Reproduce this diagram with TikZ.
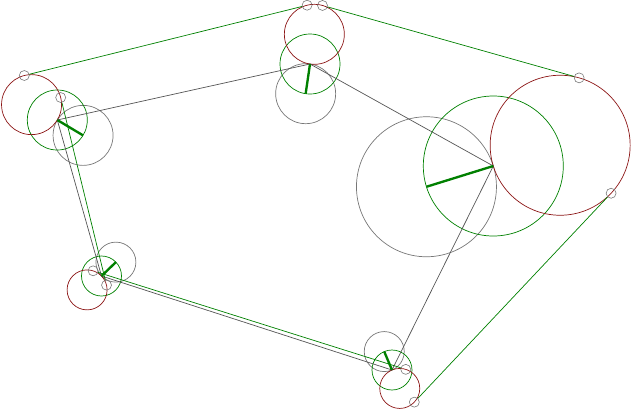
\documentclass[tikz,border=0pt]{standalone}
\usetikzlibrary{positioning, calc}
\definecolor{hullgreen}{RGB}{0,128,0}
\definecolor{outred}{RGB}{140,22,22}
\definecolor{edgegray}{RGB}{85,85,85}
\tikzset{
  ring/.style={draw=hullgreen, line width=0.6pt},
  inring/.style={draw=edgegray!80, line width=0.6pt},
  outring/.style={draw=outred, line width=0.6pt},
  spoke/.style={draw=hullgreen, line width=2pt},
  edge/.style={draw=edgegray, line width=0.6pt, line join=round},
  hull/.style={draw=hullgreen, line width=0.6pt},
  tpoint/.style={circle, draw=edgegray!80, line width=0.5pt, inner sep=0pt, minimum size=0.3cm}
}

\begin{document}
\begin{tikzpicture}[x=0.03cm, y=-0.03cm]
\useasboundingbox (0,0) rectangle (631,409);

% Corners
\coordinate (v1) at (57.3,120);
\coordinate (v2) at (310,64);
\coordinate (v3) at (493.3,166);
\coordinate (v4) at (392,370);
\coordinate (v5) at (101.5,276);

% Inner and outer centres
\coordinate (g1) at (83.06,135.38);  \coordinate (r1) at (31.54,104.62);
\coordinate (g2) at (305.66,93.68);  \coordinate (r2) at (314.34,34.32);
\coordinate (g3) at (426.45,186.76); \coordinate (r3) at (560.15,145.24);
\coordinate (g4) at (384.24,351.57); \coordinate (r4) at (399.76,388.43);
\coordinate (g5) at (115.90,262.12); \coordinate (r5) at (87.10,289.88);

% Circles
\draw[inring] (g1) circle[radius=30];
\draw[ring] (v1) circle[radius=30];
\draw[outring] (r1) circle[radius=30];
\draw[inring] (g2) circle[radius=30];
\draw[ring] (v2) circle[radius=30];
\draw[outring] (r2) circle[radius=30];
\draw[inring] (g3) circle[radius=70];
\draw[ring] (v3) circle[radius=70];
\draw[outring] (r3) circle[radius=70];
\draw[inring] (g4) circle[radius=20];
\draw[ring] (v4) circle[radius=20];
\draw[outring] (r4) circle[radius=20];
\draw[inring] (g5) circle[radius=20];
\draw[ring] (v5) circle[radius=20];
\draw[outring] (r5) circle[radius=20];

% Polygon
\draw[edge] (v1) -- (v2) -- (v3) -- (v4) -- (v5) -- cycle;

% Spokes
\draw[spoke] (v1) -- (g1);
\draw[spoke] (v2) -- (g2);
\draw[spoke] (v3) -- (g3);
\draw[spoke] (v4) -- (g4);
\draw[spoke] (v5) -- (g5);

% Tangent points
\node[tpoint] (t12a) at (24.30,75.50) {};
\node[tpoint] (t12b) at (307.10,5.21) {};
\node[tpoint] (t23a) at (322.49,5.45) {};
\node[tpoint] (t23b) at (579.16,77.87) {};
\node[tpoint] (t34a) at (611.10,193.24) {};
\node[tpoint] (t34b) at (414.32,402.14) {};
\node[tpoint] (t45a) at (405.77,369.36) {};
\node[tpoint] (t45b) at (93.11,270.81) {};
\node[tpoint] (t51a) at (106.53,285.13) {};
\node[tpoint] (t51b) at (60.69,97.50) {};

% Hull
\draw[hull] (t12a) -- (t12b);
\draw[hull] (t23a) -- (t23b);
\draw[hull] (t34a) -- (t34b);
\draw[hull] (t45a) -- (t45b);
\draw[hull] (t51a) -- (t51b);
\end{tikzpicture}
\end{document}
